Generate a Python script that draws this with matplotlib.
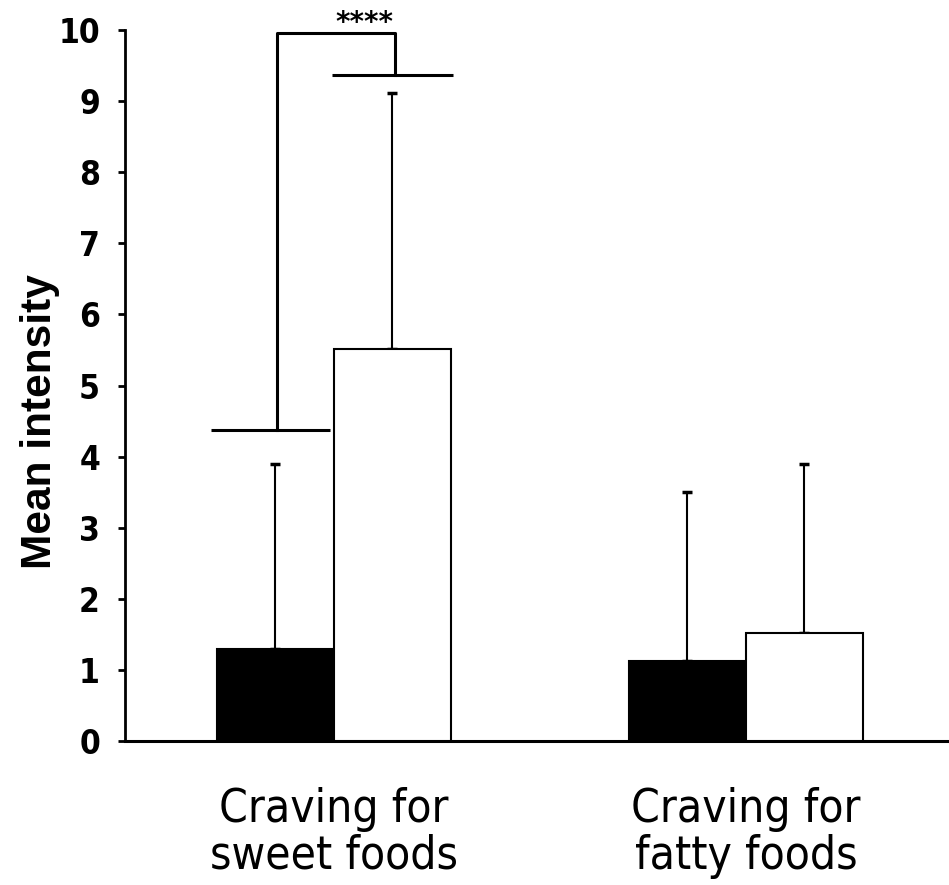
import matplotlib
matplotlib.use("Agg")
import matplotlib.pyplot as plt
from matplotlib import font_manager as fm
import numpy as np

categories = ["Craving for\nsweet foods", "Craving for\nfatty foods"]
black_means = [1.3, 1.12]
white_means = [5.52, 1.52]
black_err = [2.6, 2.38]
white_err = [3.6, 2.38]
y_ticks = [0, 1, 2, 3, 4, 5, 6, 7, 8, 9, 10]
sig_levels = [4.37, 9.37]
sig_top = 9.96
sig_text = "****"

tick_fp = fm.FontProperties(family="DejaVu Sans", size=24, weight="bold", stretch="condensed")
cat_fp = fm.FontProperties(family="DejaVu Sans", size=33, weight="normal", stretch="condensed")
ylab_fp = fm.FontProperties(family=["Liberation Sans", "DejaVu Sans"], size=30.5, weight="bold")

fig = plt.figure(figsize=(9.49, 8.85), dpi=100)
ax = fig.add_axes([0.1317, 0.1627, 0.8683, 0.8034])

x = np.arange(len(categories))
w = 0.284
xb = x - w / 2
xw = x + w / 2

ax.bar(xb, black_means, width=w, color="black", edgecolor="black", linewidth=1.5, zorder=3)
ax.bar(xw, white_means, width=w, color="white", edgecolor="black", linewidth=1.5, zorder=3)
ax.errorbar(xb, black_means, yerr=[np.zeros(len(x)), black_err], fmt="none", ecolor="black",
            elinewidth=1.5, capsize=3.5, capthick=2.5, zorder=2)
ax.errorbar(xw, white_means, yerr=[np.zeros(len(x)), white_err], fmt="none", ecolor="black",
            elinewidth=1.5, capsize=3.5, capthick=2.5, zorder=2)

# significance bracket over first group
lw = 2.2
x1 = xb[0]
x2 = xw[0]
ax.plot([x1 - w / 2 - 0.015, x1 + w / 2 - 0.01], [sig_levels[0]] * 2, color="black", lw=lw, solid_capstyle="butt", zorder=4)
ax.plot([x2 - w / 2 - 0.005, x2 + w / 2 + 0.005], [sig_levels[1]] * 2, color="black", lw=lw, solid_capstyle="butt", zorder=4)
ax.plot([x1 + 0.004, x1 + 0.004, x2 + 0.006, x2 + 0.006], [sig_levels[0], sig_top, sig_top, sig_levels[1]],
        color="black", lw=lw, zorder=4)
ax.text((x1 + x2) / 2 + 0.075, 10.1, sig_text, ha="center", va="center",
        fontsize=20, fontweight="bold", family="DejaVu Sans", clip_on=False)

ax.set_xlim(-0.507, 1.493)
ax.set_ylim(0, 10)
ax.set_yticks(y_ticks)
ax.set_yticklabels([str(t) for t in y_ticks], fontproperties=tick_fp)
ax.set_xticks(x)
ax.set_xticklabels(categories, fontproperties=cat_fp, linespacing=1.05)
ax.tick_params(axis="x", length=0, pad=33)
ax.tick_params(axis="y", direction="out", length=5, width=2, pad=13)

for s in ["top", "right"]:
    ax.spines[s].set_visible(False)
ax.spines["left"].set_linewidth(2)
ax.spines["bottom"].set_linewidth(2.2)

ax.set_ylabel("Mean intensity", fontproperties=ylab_fp)
ax.yaxis.set_label_coords(-0.079, 0.449)

fig.savefig("out.png", dpi=100)
